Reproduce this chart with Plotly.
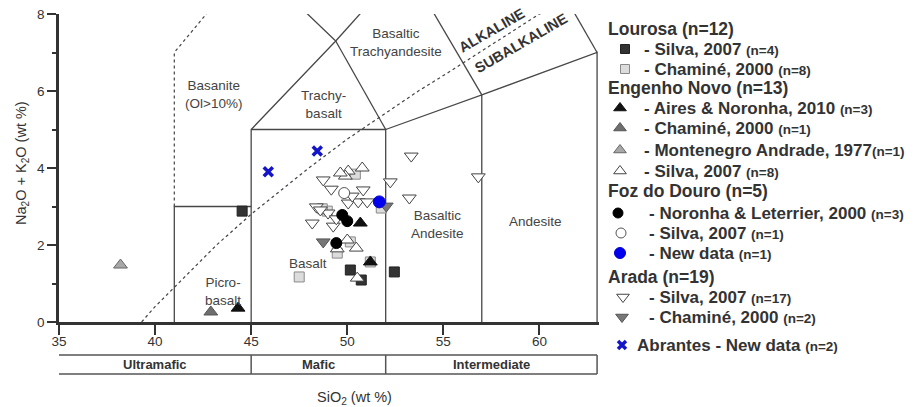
import plotly.graph_objects as go

# ---------------- Data: SiO2 (wt %) vs Na2O+K2O (wt %) ----------------
lourosa_silva_x = [44.53, 50.16, 50.73, 52.45]
lourosa_silva_y = [2.88, 1.35, 1.09, 1.30]
lourosa_chamine_x = [47.50, 50.42, 51.77, 48.96, 50.16, 49.48, 51.20, 48.70]
lourosa_chamine_y = [1.17, 3.84, 2.96, 2.88, 2.08, 1.79, 1.56, 2.94]
en_aires_x = [44.32, 50.68, 51.20]
en_aires_y = [0.36, 2.57, 1.56]
en_chamine_x = [42.90]
en_chamine_y = [0.26]
en_montenegro_x = [38.20]
en_montenegro_y = [1.48]
en_silva_x = [50.05, 50.78, 49.90, 49.64, 50.00, 50.47, 49.48, 50.52]
en_silva_y = [3.92, 4.00, 3.79, 3.87, 2.13, 1.92, 1.90, 1.14]
foz_noronha_x = [49.74, 50.00, 49.43]
foz_noronha_y = [2.78, 2.62, 2.05]
foz_silva_x = [49.84]
foz_silva_y = [3.35]
foz_new_x = [51.67]
foz_new_y = [3.12]
arada_silva_x = [48.75, 49.17, 50.83, 50.05, 50.57, 51.04, 48.39, 49.00, 48.18,
                 49.27, 49.43, 52.24, 53.33, 53.23, 56.82, 50.26, 48.60]
arada_silva_y = [3.69, 3.45, 3.43, 3.09, 3.12, 3.12, 2.99, 2.83, 2.57,
                 2.49, 2.68, 3.64, 4.31, 3.22, 3.77, 3.27, 2.91]
arada_chamine_x = [52.03, 48.75]
arada_chamine_y = [3.01, 2.08]
abrantes_x = [45.89, 48.44]
abrantes_y = [3.90, 4.44]

# ---------------- TAS field boundaries (Le Bas et al.) ----------------
tas_solid = [
    ([41, 41, 45], [0, 3, 3]),
    ([45, 45, 49.4, 45], [0, 5, 7.3, 9.4]),
    ([45, 52, 52], [5, 5, 0]),
    ([52, 57, 57], [5, 5.9, 0]),
    ([57, 63, 63], [5.9, 7, 0]),
    ([49.4, 52], [7.3, 5]),
    ([49.4, 53], [7.3, 9.3]),
    ([57, 53], [5.9, 9.3]),
    ([63, 57.6], [7, 11.7]),
]
tas_dotted_x = [41, 41, 45]
tas_dotted_y = [3, 7, 9.4]
# Alkaline / subalkaline divide (Irvine & Baragar)
ib_x = [39.3, 40, 43.2, 45, 48, 50, 53.7, 55, 60, 65]
ib_y = [0, 0.4, 2, 2.8, 4, 4.75, 6, 6.4, 8, 8.8]

field_labels = ["Basanite<br>(Ol>10%)", "Trachy-<br>basalt", "Basaltic<br>Trachyandesite",
                "Basalt", "Picro-<br>basalt", "Basaltic<br>Andesite", "Andesite"]
field_label_x = [43.02, 48.75, 52.55, 47.97, 43.54, 54.69, 59.79]
field_label_y = [5.90, 5.66, 7.25, 1.53, 0.80, 2.52, 2.60]

rock_classes = ["Ultramafic", "Mafic", "Intermediate"]
rock_bounds = [35, 45, 52, 63]

y_ticks = [0, 2, 4, 6, 8]
y_minor_ticks = [1, 3, 5, 7]
x_ticks = [35, 40, 45, 50, 55, 60]

W, H = 915, 407
OFF = 8  # page inset of the figure div
FONT = "Liberation Sans, Arial, sans-serif"
DK = "#333333"

fig = go.Figure()

for xs, ys in tas_solid:
    fig.add_trace(go.Scatter(x=xs, y=ys, mode="lines", line=dict(color="#474747", width=1.3),
                             hoverinfo="skip", showlegend=False))
fig.add_trace(go.Scatter(x=tas_dotted_x, y=tas_dotted_y, mode="lines",
                         line=dict(color="#444", width=1.2, dash="dot"), hoverinfo="skip", showlegend=False))
fig.add_trace(go.Scatter(x=ib_x, y=ib_y, mode="lines",
                         line=dict(color="#444", width=1.2, dash="dot"), hoverinfo="skip", showlegend=False))

styles = {
    "lsq": dict(symbol="square", size=10, color="#dcdcdc", line=dict(color="#8a8a8a", width=1)),
    "dsq": dict(symbol="square", size=10, color="#333333", line=dict(color="#222", width=1)),
    "wtu": dict(symbol="triangle-up", size=12, color="white", line=dict(color="#444", width=1)),
    "wtd": dict(symbol="triangle-down", size=12, color="white", line=dict(color="#444", width=1)),
    "gtd": dict(symbol="triangle-down", size=12, color="#777777", line=dict(color="#555", width=1)),
    "btu": dict(symbol="triangle-up", size=12, color="#111111", line=dict(color="#111", width=1)),
    "gtu": dict(symbol="triangle-up", size=12, color="#6e6e6e", line=dict(color="#555", width=1)),
    "ltu": dict(symbol="triangle-up", size=12, color="#a8a8a8", line=dict(color="#666", width=1)),
    "wci": dict(symbol="circle", size=11, color="white", line=dict(color="#555", width=1)),
    "bci": dict(symbol="circle", size=11, color="#000000", line=dict(color="#000", width=1)),
    "blu": dict(symbol="circle", size=12, color="#0000ee", line=dict(color="#0000cc", width=1)),
    "xx": dict(symbol="x-thin", size=9, color="#1414c8", line=dict(color="#1414c8", width=3.5)),
}

series = [
    (lourosa_chamine_x, lourosa_chamine_y, "lsq"),
    (lourosa_silva_x, lourosa_silva_y, "dsq"),
    (en_silva_x, en_silva_y, "wtu"),
    (arada_silva_x, arada_silva_y, "wtd"),
    (arada_chamine_x, arada_chamine_y, "gtd"),
    (en_aires_x, en_aires_y, "btu"),
    (en_chamine_x, en_chamine_y, "gtu"),
    (en_montenegro_x, en_montenegro_y, "ltu"),
    (foz_silva_x, foz_silva_y, "wci"),
    (foz_noronha_x, foz_noronha_y, "bci"),
    (foz_new_x, foz_new_y, "blu"),
    (abrantes_x, abrantes_y, "xx"),
]
for xs, ys, st in series:
    fig.add_trace(go.Scatter(x=xs, y=ys, mode="markers", marker=styles[st], showlegend=False))

# ---------------- Custom legend (screen-pixel overlay axes) ----------------
leg_headers = ["Lourosa (n=12)", "Engenho Novo (n=13)", "Foz do Douro (n=5)", "Arada (n=19)"]
leg_header_y = [29, 88, 191, 277]
leg_items = [
    ("- Silva, 2007 ", "(n=4)", "dsq", 49, 625, 642),
    ("- Chaminé, 2000 ", "(n=8)", "lsq", 69, 625, 642),
    ("- Aires & Noronha, 2010 ", "(n=3)", "btu", 108, 620, 642),
    ("- Chaminé, 2000 ", "(n=1)", "gtu", 128, 620, 642),
    ("- Montenegro Andrade, 1977", "(n=1)", "ltu", 150, 620, 642),
    ("- Silva, 2007 ", "(n=8)", "wtu", 171, 620, 642),
    ("- Noronha & Leterrier, 2000 ", "(n=3)", "bci", 213, 618, 647),
    ("- Silva, 2007 ", "(n=1)", "wci", 233, 621, 647),
    ("- New data ", "(n=1)", "blu", 253, 620, 647),
    ("- Silva, 2007 ", "(n=17)", "wtd", 297, 623, 647),
    ("- Chaminé, 2000 ", "(n=2)", "gtd", 317, 622, 647),
    ("Abrantes - New data ", "(n=2)", "xx", 345, 622, 635),
]
for label, n, st, py, mx, tx in leg_items:
    m = dict(styles[st])
    m["size"] = m["size"] - 1
    fig.add_trace(go.Scatter(x=[mx], y=[py], mode="markers", marker=m, xaxis="x2", yaxis="y2",
                             showlegend=False, hoverinfo="skip", cliponaxis=False))

annotations = []
for t, py in zip(leg_headers, leg_header_y):
    annotations.append(dict(x=606, y=py, xref="x2", yref="y2", text=t, showarrow=False,
                            xanchor="left", yanchor="middle",
                            font=dict(family=FONT, size=17.5, color=DK, weight="bold")))
for label, n, st, py, mx, tx in leg_items:
    annotations.append(dict(x=tx, y=py, xref="x2", yref="y2",
                            text=label + '<span style="font-size:13.5px">' + n + "</span>",
                            showarrow=False, xanchor="left", yanchor="middle",
                            font=dict(family=FONT, size=17, color=DK, weight="bold")))

# Field labels
for t, lx, ly in zip(field_labels, field_label_x, field_label_y):
    annotations.append(dict(x=lx, y=ly, xref="x", yref="y", text=t, showarrow=False,
                            xanchor="center", yanchor="middle",
                            font=dict(family=FONT, size=13.5, color="#444")))
annotations.append(dict(x=57.55, y=7.58, xref="x", yref="y", text="ALKALINE", showarrow=False,
                        textangle=-30, font=dict(family=FONT, size=14.5, color=DK, weight="bold")))
annotations.append(dict(x=59.06, y=7.25, xref="x", yref="y", text="SUBALKALINE", showarrow=False,
                        textangle=-30, font=dict(family=FONT, size=14.5, color=DK, weight="bold")))

# Axis titles
annotations.append(dict(x=22, y=163, xref="x2", yref="y2", text="Na<sub>2</sub>O + K<sub>2</sub>O (wt %)",
                        showarrow=False, textangle=-90, xanchor="center", yanchor="middle",
                        font=dict(family=FONT, size=14.5, color=DK)))
annotations.append(dict(x=354, y=398, xref="x2", yref="y2", text="SiO<sub>2</sub> (wt %)",
                        showarrow=False, xanchor="center", yanchor="middle",
                        font=dict(family=FONT, size=14.5, color=DK)))

# Rock class bar
bar_top, bar_bot = 1 - (355 - OFF) / H, 1 - (374 - OFF) / H
shapes = [
    dict(type="line", xref="x", yref="paper", x0=rock_bounds[0], x1=rock_bounds[-1], y0=bar_top, y1=bar_top,
         line=dict(color="#555", width=1.5)),
    dict(type="line", xref="x", yref="paper", x0=rock_bounds[0], x1=rock_bounds[-1], y0=bar_bot, y1=bar_bot,
         line=dict(color="#555", width=1.5)),
]
for b in rock_bounds[1:]:
    shapes.append(dict(type="line", xref="x", yref="paper", x0=b, x1=b, y0=bar_bot, y1=bar_top,
                       line=dict(color="#555", width=1.5)))
for i, c in enumerate(rock_classes):
    annotations.append(dict(x=(rock_bounds[i] + rock_bounds[i + 1]) / 2, y=(bar_top + bar_bot) / 2,
                            xref="x", yref="paper", text=c, showarrow=False, xanchor="center", yanchor="middle",
                            font=dict(family=FONT, size=13, color=DK, weight="bold")))

fig.update_layout(
    width=W, height=H, autosize=False,
    margin=dict(l=0, r=0, t=0, b=0, pad=0, autoexpand=False),
    paper_bgcolor="white", plot_bgcolor="rgba(0,0,0,0)",
    showlegend=False,
    xaxis=dict(domain=[(59 - OFF) / W, (599 - OFF) / W], range=[35, 63.1], tickvals=x_ticks,
               showline=True, linewidth=2.5, linecolor=DK, ticks="outside", ticklen=10, tickwidth=2,
               tickcolor=DK, showgrid=False, zeroline=False, automargin=False, ticklabelstandoff=-5,
               ticklabeloverflow="allow",
               tickfont=dict(family=FONT, size=13.5, color=DK)),
    yaxis=dict(domain=[1 - (322 - OFF) / H, 1 - (14 - OFF) / H], range=[0, 8], tickvals=y_ticks,
               showline=True, linewidth=2.5, linecolor=DK, ticks="outside", ticklen=9, tickwidth=2,
               tickcolor=DK, showgrid=False, zeroline=False, automargin=False,
               ticklabeloverflow="allow",
               minor=dict(tickvals=y_minor_ticks, ticks="outside", ticklen=4, tickwidth=1.5, tickcolor=DK),
               tickfont=dict(family=FONT, size=13.5, color=DK)),
    xaxis2=dict(domain=[0, 1], range=[OFF, W + OFF], anchor="y2", visible=False, fixedrange=True,
                automargin=False),
    yaxis2=dict(domain=[0, 1], range=[H + OFF, OFF], anchor="x2", visible=False, fixedrange=True,
                automargin=False),
    annotations=annotations,
    shapes=shapes,
)

fig.write_html("out.html")
